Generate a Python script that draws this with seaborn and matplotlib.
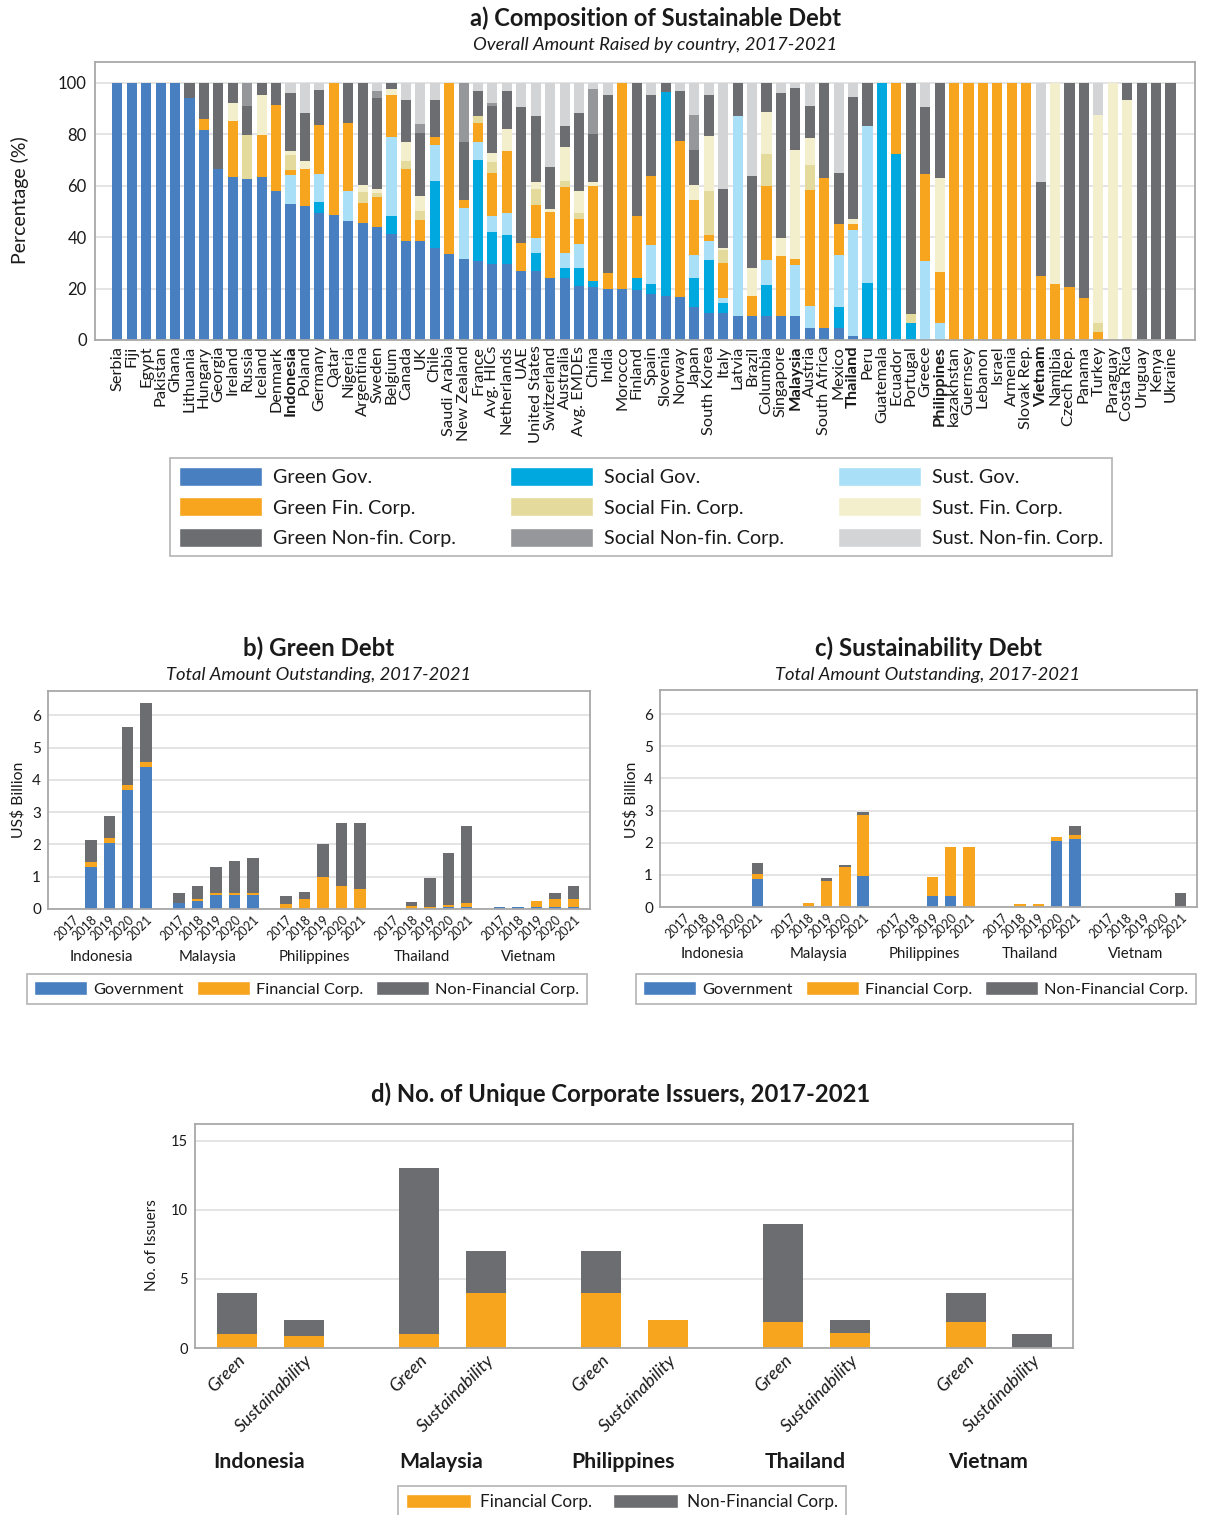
import numpy as np
import pandas as pd
import matplotlib
matplotlib.use("Agg")
import matplotlib.pyplot as plt
import matplotlib.transforms as mtransforms
from matplotlib.patches import Patch
import seaborn as sns

# ---------------- DATA ----------------
# Panel a: composition (%) by country
a_countries = [
    "Serbia", "Fiji", "Egypt", "Pakistan", "Ghana", "Lithuania", "Hungary", "Georgia", "Ireland", "Russia", "Iceland", "Denmark",
    "Indonesia", "Poland", "Germany", "Qatar", "Nigeria", "Argentina", "Sweden", "Belgium", "Canada", "UK", "Chile", "Saudi Arabia",
    "New Zealand", "France", "Avg. HICs", "Netherlands", "UAE", "United States", "Switzerland", "Australia", "Avg. EMDEs", "China", "India", "Morocco",
    "Finland", "Spain", "Slovenia", "Norway", "Japan", "South Korea", "Italy", "Latvia", "Brazil", "Columbia", "Singapore", "Malaysia",
    "Austria", "South Africa", "Mexico", "Thailand", "Peru", "Guatemala", "Ecuador", "Portugal", "Greece", "Philippines", "kazakhstan", "Guernsey",
    "Lebanon", "Israel", "Armenia", "Slovak Rep.", "Vietnam", "Namibia", "Czech Rep.", "Panama", "Turkey", "Paraguay", "Costa Rica", "Uruguay",
    "Kenya", "Ukraine"]
a_bold = ["Indonesia", "Malaysia", "Thailand", "Philippines", "Vietnam"]

a_green_gov = [100, 100, 100, 100, 100, 94, 81.5, 66.5, 63.5, 62.5, 63.5, 57.7,
               53, 52, 49.5, 48.5, 46.4, 45.3, 44, 41, 38.6, 38.6, 35.8, 33.5,
               31.6, 30.8, 29.7, 29.7, 26.9, 26.9, 24.2, 24.2, 21, 20.6, 19.9, 19.9,
               19.5, 17.9, 17.1, 16.8, 12.9, 10.5, 10.5, 9.4, 9.4, 9.4, 9.4, 9.4,
               4.7, 4.7, 4.7, 1.6, 0.8, 0, 0, 0, 0, 0, 0, 0,
               0, 0, 0, 0, 0, 0, 0, 0, 0, 0, 0, 0,
               0, 0]
a_social_gov = [0, 0, 0, 0, 0, 0, 0, 0, 0, 0, 0, 0,
                0, 0, 4, 0, 0, 0, 0, 7.3, 0, 0, 25.8, 0,
                0, 39.3, 12.4, 11.2, 0, 7, 0, 3.9, 7.1, 2.4, 0, 0,
                4.7, 3.9, 79.1, 0, 11.3, 20.7, 3.9, 0, 0, 12, 0, 0,
                0, 0, 8.2, 0, 21.4, 100, 72.1, 6.6, 0, 0, 0, 0,
                0, 0, 0, 0, 0, 0, 0, 0, 0, 0, 0, 0,
                0, 0]
a_sust_gov = [0, 0, 0, 0, 0, 0, 0, 0, 0, 0, 0, 0,
              11, 0, 11, 0, 11.3, 0, 0, 30.5, 0, 0, 14, 0,
              19.8, 7, 6.2, 8.6, 0, 5.8, 0, 5.8, 9.3, 0, 0, 0,
              0, 15.2, 0, 0, 8.9, 7.4, 2, 77.5, 0, 9.8, 0, 19.8,
              8.5, 0, 20.2, 41.3, 60.8, 0, 0, 0, 30.8, 6.6, 0, 0,
              0, 0, 0, 0, 0, 0, 0, 0, 0, 0, 0, 0,
              0, 0]
a_green_fin = [0, 0, 0, 0, 0, 0, 4.5, 0, 21.5, 0, 16, 33.5,
               2, 14.5, 19, 51.5, 26.6, 8, 11.5, 16.4, 28, 8.2, 3.1, 66.5,
               3.1, 7.1, 16.4, 24.1, 10.9, 12.9, 25.7, 25.7, 9.7, 37, 6.2, 80.1,
               24.1, 26.9, 0, 60.7, 21.4, 2.3, 13.6, 0, 7.7, 28.8, 23.3, 2.4,
               45.2, 58.4, 12.1, 2.3, 0, 0, 27.9, 0, 33.5, 19.9, 100, 100,
               100, 100, 100, 100, 24.9, 21.8, 20.6, 16.4, 3.1, 0, 0, 0,
               0, 0]
a_social_fin = [0, 0, 0, 0, 0, 0, 0, 0, 0, 17, 0, 0,
                6, 0, 0, 0, 0, 4.3, 1.5, 0, 3.1, 3.5, 0, 0,
                0, 2.7, 4.3, 0, 0, 6.2, 0, 2, 2.4, 0, 0, 0,
                0, 0, 0, 0, 0, 17.1, 5.1, 0, 0, 12.1, 0, 0,
                9.4, 0, 0, 0, 0, 0, 0, 3.5, 0, 0, 0, 0,
                0, 0, 0, 0, 0, 0, 0, 0, 3.5, 0, 0, 0,
                0, 0]
a_sust_fin = [0, 0, 0, 0, 0, 0, 0, 0, 7, 0, 15.5, 0,
              1.5, 3, 0, 0, 0, 2.7, 1.5, 2.3, 7.4, 5.8, 0, 0,
              0, 0, 3.5, 8.2, 0, 2.4, 1.1, 13.2, 8.5, 1.2, 0, 0,
              0, 0, 0, 0, 5.9, 21.1, 0.7, 0, 11, 16.3, 7, 42.4,
              10.5, 0, 0, 1.9, 0, 0, 0, 0, 0, 36.6, 0, 0,
              0, 0, 0, 0, 0, 78.2, 0, 0, 80.7, 100, 93.1, 0,
              0, 0]
a_green_nonfin = [0, 0, 0, 0, 0, 6, 14, 33.5, 8, 11.5, 5, 8.8,
                  22.5, 18.5, 13.5, 0, 15.7, 39.7, 35.5, 2.5, 16, 24.2, 14.4, 0,
                  22.6, 9.7, 18.3, 14.8, 52.6, 25.7, 16.4, 8.2, 30, 18.7, 69, 0,
                  51.7, 31.2, 3.8, 19.1, 13.6, 16, 23, 13.1, 35.8, 11.6, 56.1, 23.8,
                  12.5, 36.9, 19.5, 47.2, 17, 0, 0, 89.9, 26.1, 36.9, 0, 0,
                  0, 0, 0, 0, 36.3, 0, 79.4, 83.6, 0, 0, 6.9, 100,
                  100, 100]
a_social_nonfin = [0, 0, 0, 0, 0, 0, 0, 0, 0, 9, 0, 0,
                   0, 0, 0, 0, 0, 0, 2.7, 0, 0, 3.5, 0, 0,
                   22.9, 0, 1.1, 0, 0, 0, 0, 0, 0, 17.5, 0, 0,
                   0, 0, 0, 0, 13.3, 0, 0, 0, 0, 0, 0, 0,
                   0, 0, 0, 0, 0, 0, 0, 0, 0, 0, 0, 0,
                   0, 0, 0, 0, 0, 0, 0, 0, 0, 0, 0, 0,
                   0, 0]
a_sust_nonfin = [0, 0, 0, 0, 0, 0, 0, 0, 0, 0, 0, 0,
                 4, 12, 3, 0, 0, 0, 3.3, 0, 6.9, 16.2, 6.9, 0,
                 0, 3.4, 8.1, 3.4, 9.6, 13.1, 32.6, 17, 12, 2.6, 4.9, 0,
                 0, 4.9, 0, 3.4, 12.7, 4.9, 41.2, 0, 36.1, 0, 4.2, 2.2,
                 9.2, 0, 35.3, 5.7, 0, 0, 0, 0, 9.6, 0, 0, 0,
                 0, 0, 0, 0, 38.8, 0, 0, 0, 12.7, 0, 0, 0,
                 0, 0]
a_series_labels = ["Green Gov.", "Social Gov.", "Sust. Gov.",
                   "Green Fin. Corp.", "Social Fin. Corp.", "Sust. Fin. Corp.",
                   "Green Non-fin. Corp.", "Social Non-fin. Corp.", "Sust. Non-fin. Corp."]

# Panels b and c: US$ billion, by country and year
bc_countries = ["Indonesia", "Malaysia", "Philippines", "Thailand", "Vietnam"]
bc_years = ["2017", "2018", "2019", "2020", "2021"]
b_gov = [0, 1.30, 2.05, 3.69, 4.41, 0.19, 0.25, 0.43, 0.43, 0.43, 0, 0, 0, 0, 0,
         0, 0, 0, 0.06, 0.06, 0.06, 0.06, 0.06, 0.06, 0.06]
b_fin = [0, 0.16, 0.15, 0.16, 0.15, 0, 0.06, 0.07, 0.07, 0.07, 0.16, 0.31, 0.99, 0.71, 0.62,
         0, 0.09, 0.06, 0.06, 0.13, 0, 0, 0.19, 0.25, 0.25]
b_nonfin = [0, 0.68, 0.69, 1.77, 1.83, 0.31, 0.40, 0.80, 0.99, 1.08, 0.24, 0.22, 1.03, 1.96, 2.05,
            0, 0.13, 0.90, 1.62, 2.38, 0, 0, 0, 0.19, 0.40]
c_gov = [0, 0, 0, 0, 0.88, 0, 0, 0, 0, 0.97, 0, 0, 0.35, 0.35, 0,
         0, 0, 0, 2.06, 2.12, 0, 0, 0, 0, 0]
c_fin = [0, 0, 0, 0, 0.16, 0, 0.13, 0.82, 1.25, 1.90, 0, 0, 0.59, 1.53, 1.88,
         0, 0.10, 0.10, 0.13, 0.13, 0, 0, 0, 0, 0]
c_nonfin = [0, 0, 0, 0, 0.34, 0, 0, 0.09, 0.07, 0.09, 0, 0, 0, 0, 0,
            0, 0, 0, 0, 0.28, 0, 0, 0, 0, 0.45]

# Panel d: number of unique corporate issuers
d_countries = ["Indonesia", "Malaysia", "Philippines", "Thailand", "Vietnam"]
d_types = ["Green", "Sustainability"]
d_fin = [1, 0.9, 1, 4, 4, 2, 1.9, 1.05, 1.9, 0]
d_nonfin = [3, 1.1, 12, 3, 3, 0, 7.1, 0.95, 2.1, 1]

# ---------------- STYLE ----------------
C_GG, C_SG, C_UG = "#477FC1", "#00A8E0", "#AADFF8"
C_GF, C_SF, C_UF = "#F7A51E", "#E4DA9B", "#F3EFCC"
C_GN, C_SN, C_UN = "#6C6D71", "#96979A", "#D3D4D6"
a_colors = [C_GG, C_SG, C_UG, C_GF, C_SF, C_UF, C_GN, C_SN, C_UN]
GRID = "#DCDCDC"
SPINE = "#A8A8A8"
TXT = "#1A1A1A"

sns.set_theme(style="white")
plt.rcParams['font.family'] = ['Lato', 'DejaVu Sans']
plt.rcParams['text.color'] = TXT
plt.rcParams['xtick.color'] = TXT
plt.rcParams['ytick.color'] = TXT

W, H = 1205, 1515
fig = plt.figure(figsize=(W / 100, H / 100), dpi=100)


def box(l, t, r, b):
    return [l / W, 1 - b / H, (r - l) / W, (b - t) / H]


def stacked(ax, x, layers, colors, width, native):
    cum = np.cumsum(np.array(layers, dtype=float), axis=0)
    for i in range(len(layers) - 1, -1, -1):
        df = pd.DataFrame({"x": x, "y": cum[i]})
        kw = dict(native_scale=True) if native else dict(order=list(x))
        sns.barplot(data=df, x="x", y="y", color=colors[i], saturation=1,
                    width=width, errorbar=None, linewidth=0, ax=ax, **kw)


def style_axes(ax):
    ax.yaxis.grid(True, color=GRID, lw=1.1)
    ax.xaxis.grid(False)
    ax.set_axisbelow(True)
    for s in ax.spines.values():
        s.set_color(SPINE)
        s.set_linewidth(1.3)
    ax.tick_params(length=0)
    ax.set_xlabel("")
    ax.set_ylabel("")


def legend(handles, labels, cx, cy, fs, ncol, hl, hh, cs, tp=0.55, **kw):
    lg = fig.legend(handles, labels, loc="center", bbox_to_anchor=(cx / W, 1 - cy / H),
                    ncol=ncol, fontsize=fs, frameon=True, fancybox=False, shadow=False,
                    handlelength=hl, handleheight=hh, columnspacing=cs, handletextpad=tp,
                    borderpad=0.45, **kw)
    lg.get_frame().set_edgecolor(SPINE)
    lg.get_frame().set_linewidth(1.3)
    return lg


# ---------------- PANEL A ----------------
axA = fig.add_axes(box(95, 62, 1195, 340))
a_layers = [a_green_gov, a_social_gov, a_sust_gov, a_green_fin, a_social_fin, a_sust_fin,
            a_green_nonfin, a_social_nonfin, a_sust_nonfin]
stacked(axA, a_countries, a_layers, a_colors, 0.7, False)
style_axes(axA)
axA.set_xlim(-1.55, len(a_countries) - 1 + 1.7)
axA.set_ylim(0, 108)
axA.set_yticks([0, 20, 40, 60, 80, 100])
axA.tick_params(axis="y", labelsize=12, pad=6)
axA.tick_params(axis="x", labelsize=11.8, pad=4, labelrotation=90)
for t in axA.get_xticklabels():
    if t.get_text() in a_bold:
        t.set_fontweight("bold")
fig.text(20 / W, 1 - 200 / H, "Percentage (%)", rotation=90, ha="center", va="center", fontsize=14)
fig.text(655 / W, 1 - 18 / H, "a) Composition of Sustainable Debt", ha="center", va="center",
         fontsize=17, fontweight="bold")
fig.text(655 / W, 1 - 45 / H, "Overall Amount Raised by country, 2017-2021", ha="center", va="center",
         fontsize=13.3, style="italic")
order_idx = [0, 3, 6, 1, 4, 7, 2, 5, 8]
legend([Patch(facecolor=a_colors[i]) for i in order_idx], [a_series_labels[i] for i in order_idx],
       641, 507, 14.2, 3, 4.2, 1.1, 2.75, labelspacing=0.56)

# ---------------- PANELS B & C ----------------
G = 5.79
bc_pos = [g * G + y for g in range(len(bc_countries)) for y in range(len(bc_years))]
bc_ticklabels = [yr for _ in bc_countries for yr in bc_years]
panels = [
    (box(48, 691, 590, 909), [b_gov, b_fin, b_nonfin], "b) Green Debt", 319, 18, 307),
    (box(660, 690, 1197, 907), [c_gov, c_fin, c_nonfin], "c) Sustainability Debt", 928, 631, 916),
]
for rect, layers, title, tcx, ylx, lgx in panels:
    ax = fig.add_axes(rect)
    stacked(ax, bc_pos, layers, [C_GG, C_GF, C_GN], 0.62, True)
    style_axes(ax)
    ax.set_xlim(-1.32, 4 * G + 4 + 0.89)
    ax.set_ylim(0, 6.75)
    ax.set_yticks(range(0, 7))
    ax.set_xticks(bc_pos)
    ax.set_xticklabels(bc_ticklabels, rotation=45, ha="right", rotation_mode="anchor", fontsize=9)
    ax.tick_params(axis="x", pad=3)
    ax.tick_params(axis="y", labelsize=11, pad=5)
    trans = mtransforms.blended_transform_factory(ax.transData, ax.transAxes)
    for g, name in enumerate(bc_countries):
        ax.text(g * G + 1.55, -0.218, name, transform=trans, ha="center", va="center", fontsize=10.8)
    fig.text(ylx / W, 1 - 800 / H, "US$ Billion", rotation=90, ha="center", va="center", fontsize=11.3)
    fig.text(tcx / W, 1 - 648 / H, title, ha="center", va="center", fontsize=17.3, fontweight="bold")
    fig.text(tcx / W, 1 - 675 / H, "Total Amount Outstanding, 2017-2021", ha="center", va="center",
             fontsize=13.2, style="italic")
    legend([Patch(facecolor=c) for c in [C_GG, C_GF, C_GN]],
           ["Government", "Financial Corp.", "Non-Financial Corp."],
           lgx, 989, 11.8, 3, 3.2, 0.9, 0.8, tp=0.4)

# ---------------- PANEL D ----------------
GD = 2.73
d_pos = [g * GD + s for g in range(len(d_countries)) for s in range(len(d_types))]
d_ticklabels = [t for _ in d_countries for t in d_types]
axD = fig.add_axes(box(195, 1124, 1073, 1348))
stacked(axD, d_pos, [d_fin, d_nonfin], [C_GF, C_GN], 0.6, True)
style_axes(axD)
axD.set_xlim(-0.63, 4 * GD + 1 + 0.61)
axD.set_ylim(0, 16.2)
axD.set_yticks([0, 5, 10, 15])
axD.tick_params(axis="y", labelsize=10.5, pad=5)
axD.set_xticks(d_pos)
axD.set_xticklabels(d_ticklabels, rotation=45, ha="right", rotation_mode="anchor",
                    fontsize=13, style="italic")
axD.tick_params(axis="x", pad=3)
transD = mtransforms.blended_transform_factory(axD.transData, axD.transAxes)
for g, name in enumerate(d_countries):
    axD.text(g * GD + 0.33, -0.51, name, transform=transD, ha="center", va="center",
             fontsize=15.3, fontweight="bold")
fig.text(152 / W, 1 - 1245 / H, "No. of Issuers", rotation=90, ha="center", va="center", fontsize=11)
fig.text(621 / W, 1 - 1094 / H, "d) No. of Unique Corporate Issuers, 2017-2021", ha="center",
         va="center", fontsize=17.2, fontweight="bold")
legend([Patch(facecolor=c) for c in [C_GF, C_GN]], ["Financial Corp.", "Non-Financial Corp."],
       622, 1502, 12.3, 2, 3.8, 0.9, 1.2)

fig.savefig("out.png", dpi=100, facecolor="white")
